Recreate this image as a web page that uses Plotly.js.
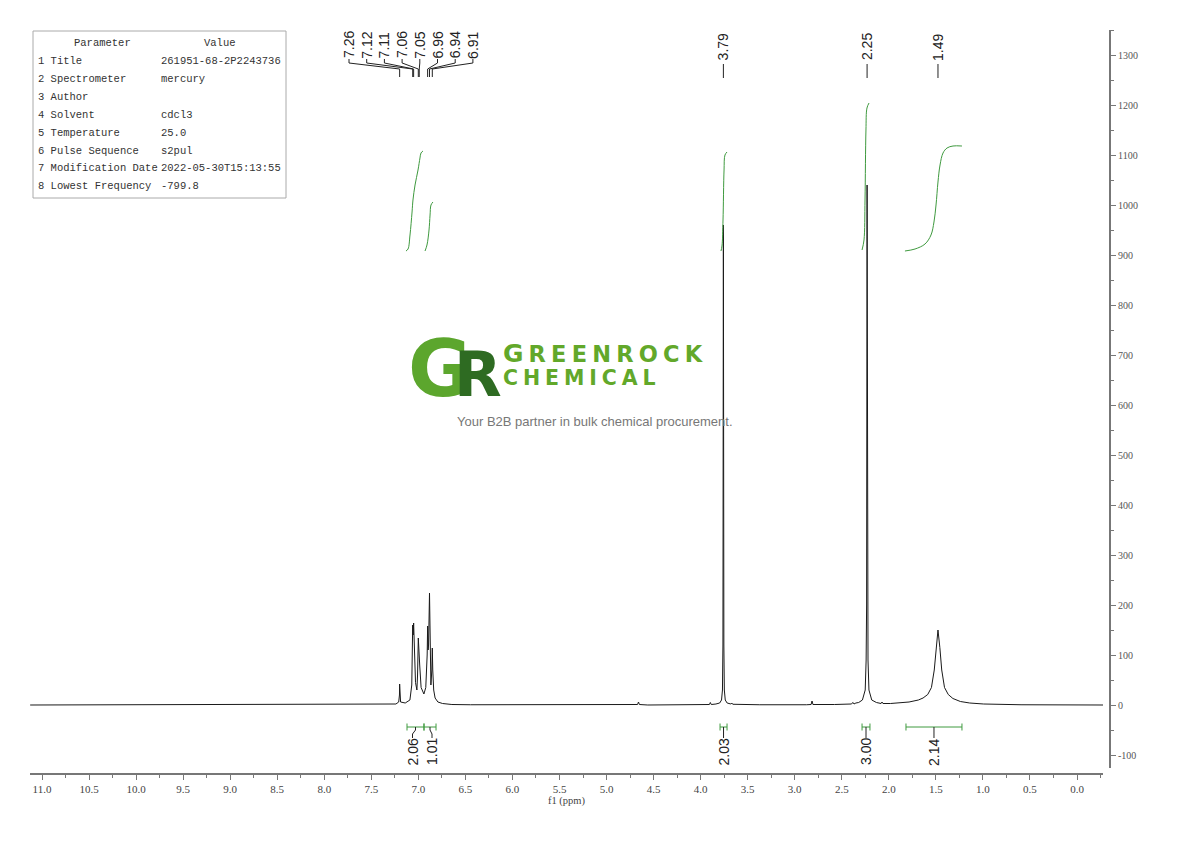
<!DOCTYPE html>
<html>
<head>
<meta charset="utf-8">
<script src="https://cdn.plot.ly/plotly-3.0.1.min.js"></script>
<style>html,body{margin:0;padding:0;background:#fff;}#chart{width:1190px;height:841px;}</style>
</head>
<body>
<div id="chart"></div>
<script>
// ---------- DATA ----------
// 1H NMR spectrum trace (ppm, intensity)
const specX = [11.22, 7.45, 7.30, 7.27, 7.262, 7.26, 7.258, 7.25, 7.20, 7.15, 7.13, 7.122, 7.12, 7.115, 7.11, 7.105, 7.09, 7.075, 7.068, 7.06, 7.055, 7.05, 7.045, 7.03, 7.00, 6.98, 6.965, 6.96, 6.955, 6.95, 6.94, 6.935, 6.925, 6.915, 6.91, 6.905, 6.895, 6.88, 6.85, 6.80, 6.70, 6.50, 4.75, 4.71, 4.70, 4.69, 4.60, 4.00, 3.94, 3.93, 3.92, 3.87, 3.83, 3.81, 3.80, 3.795, 3.79, 3.785, 3.78, 3.77, 3.75, 3.71, 3.70, 3.69, 3.60, 3.40, 2.90, 2.85, 2.84, 2.83, 2.60, 2.42, 2.40, 2.39, 2.37, 2.34, 2.30, 2.27, 2.26, 2.255, 2.25, 2.245, 2.24, 2.23, 2.20, 2.15, 2.10, 2.09, 2.08, 2.00, 1.90, 1.80, 1.70, 1.65, 1.60, 1.56, 1.53, 1.51, 1.49, 1.47, 1.45, 1.42, 1.38, 1.33, 1.25, 1.15, 1.00, 0.60, -0.28];
const specY = [0, 0.5, 2, 6, 20, 42, 20, 6, 4, 10, 40, 130, 160, 140, 164, 120, 45, 30, 60, 134, 100, 120, 80, 35, 22, 35, 100, 158, 110, 120, 224, 120, 40, 70, 114, 70, 30, 14, 6, 3, 1, 0.5, 0, 1, 6, 1, 0, 0.5, 1, 5, 1, 2, 4, 10, 30, 120, 960, 120, 30, 10, 4, 2, 4, 1.5, 1, 0.5, 0.5, 1, 8, 1, 1, 2, 5, 2, 4, 5, 10, 30, 90, 200, 1040, 200, 90, 30, 10, 5, 3, 6, 3, 3, 4, 6, 10, 14, 21, 35, 70, 115, 150, 115, 70, 35, 21, 13, 7, 4, 2, 0.5, 0];

// integral curves (ppm, value)
const int1X = [7.192, 7.170, 7.149, 7.127, 7.117, 7.095, 7.063, 7.042, 7.031, 7.010];
const int1Y = [908, 912, 940, 986, 1010, 1040, 1070, 1094, 1104, 1108];
const int2X = [6.988, 6.967, 6.945, 6.934, 6.924, 6.903];
const int2Y = [908, 920, 950, 980, 1000, 1006];
const int3X = [3.816, 3.805, 3.794, 3.783, 3.773, 3.751];
const int3Y = [908, 918, 970, 1070, 1100, 1106];
const int4X = [2.304, 2.283, 2.272, 2.262, 2.251, 2.229];
const int4Y = [910, 930, 1010, 1150, 1194, 1204];
const int5X = [1.844, 1.736, 1.629, 1.565, 1.533, 1.511, 1.490, 1.468, 1.436, 1.393, 1.329, 1.233];
const int5Y = [908, 912, 922, 940, 966, 1000, 1046, 1080, 1104, 1114, 1118, 1118];

// integration regions
const intFrom  = [7.181, 6.999, 3.826, 2.304, 1.833];
const intTo    = [6.999, 6.870, 3.751, 2.219, 1.233];
const intLabel = ["2.06", "1.01", "2.03", "3.00", "2.14"];

// peak picking
const clusterPeaks = [7.26, 7.12, 7.11, 7.06, 7.05, 6.96, 6.94, 6.91];
const singlePeaks  = [3.79, 2.25, 1.49];

// axis ticks
const yTicks = [-100, 0, 100, 200, 300, 400, 500, 600, 700, 800, 900, 1000, 1100, 1200, 1300];

// parameter table
const paramNames  = ["1 Title", "2 Spectrometer", "3 Author", "4 Solvent", "5 Temperature", "6 Pulse Sequence", "7 Modification Date", "8 Lowest Frequency"];
const paramValues = ["261951-68-2P2243736", "mercury", "", "cdcl3", "25.0", "s2pul", "2022-05-30T15:13:55", "-799.8"];

// ---------- LAYOUT HELPERS ----------
const PL = 30, PT = 30, PW = 1080, PH = 743;
const X0PX = 1077;                 // pixel of 0.0 ppm
const PXPP = 94.09;                // pixels per ppm of the tick scale
const SPXPP = 93.3;                // pixels per ppm of the drawn spectrum frame
const XDOM_END_PX = 1103;
const xL = (X0PX - PL) / PXPP, xR = (X0PX - XDOM_END_PX) / PXPP;
const sL = (X0PX - PL) / SPXPP, sR = (X0PX - XDOM_END_PX) / SPXPP;
const Y0PX = 705, PXPU = 0.5;
const yDomBottomPx = 768;
const yB = -(yDomBottomPx - Y0PX) / PXPU, yT = (Y0PX - PT) / PXPU;
const ppm2px = v => X0PX - v * SPXPP;
const py2p = py => (PT + PH - py) / PH;
const px2p = px => (px - PL) / PW;

const green = '#3f9a3f';
const traces = [];
// empty trace so the tick axis (x / y) subplot is created
traces.push({x: [], y: [], xaxis: 'x', yaxis: 'y', type: 'scatter', mode: 'lines', hoverinfo: 'skip'});
traces.push({x: specX, y: specY, xaxis: 'x2', type: 'scatter', mode: 'lines', line: {color: '#1a1a1a', width: 1}, hoverinfo: 'skip'});
[[int1X, int1Y], [int2X, int2Y], [int3X, int3Y], [int4X, int4Y], [int5X, int5Y]].forEach(([ix, iy]) => {
  traces.push({x: ix, y: iy, xaxis: 'x2', type: 'scatter', mode: 'lines', line: {color: green, width: 1, shape: 'spline'}, hoverinfo: 'skip'});
});

const shapes = [];
const annotations = [];

// parameter table
shapes.push({type: 'rect', xref: 'paper', yref: 'paper', x0: px2p(33), x1: px2p(286), y0: py2p(31), y1: py2p(198), line: {color: '#aaaaaa', width: 1}});
const tFont = {family: 'Liberation Mono, DejaVu Sans Mono, monospace', size: 10.5, color: '#333'};
annotations.push({xref: 'paper', yref: 'paper', x: px2p(102), y: py2p(43), text: 'Parameter', showarrow: false, xanchor: 'center', yanchor: 'middle', font: tFont});
annotations.push({xref: 'paper', yref: 'paper', x: px2p(220), y: py2p(43), text: 'Value', showarrow: false, xanchor: 'center', yanchor: 'middle', font: tFont});
paramNames.forEach((n, i) => {
  const py = 61 + i * 17.9;
  annotations.push({xref: 'paper', yref: 'paper', x: px2p(36), y: py2p(py), text: n, showarrow: false, xanchor: 'left', yanchor: 'middle', font: tFont});
  if (paramValues[i]) annotations.push({xref: 'paper', yref: 'paper', x: px2p(159), y: py2p(py), text: paramValues[i], showarrow: false, xanchor: 'left', yanchor: 'middle', font: tFont});
});

// peak labels
const pFont = {family: 'Liberation Sans, Arial, sans-serif', size: 14, color: '#222'};
singlePeaks.forEach(p => {
  annotations.push({xref: 'x2', yref: 'paper', x: p, y: py2p(47), text: p.toFixed(2), textangle: -90, showarrow: false, xanchor: 'center', yanchor: 'middle', font: pFont});
  shapes.push({type: 'line', xref: 'x2', yref: 'paper', x0: p, x1: p, y0: py2p(64), y1: py2p(78), line: {color: '#222', width: 1}});
});
clusterPeaks.forEach((p, i) => {
  const lx = 349 + i * 17.7;
  annotations.push({xref: 'paper', yref: 'paper', x: px2p(lx), y: py2p(45), text: p.toFixed(2), textangle: -90, showarrow: false, xanchor: 'center', yanchor: 'middle', font: pFont});
  const ppx = ppm2px(p);
  shapes.push({type: 'path', xref: 'paper', yref: 'paper',
    path: `M ${px2p(lx)} ${py2p(59)} L ${px2p(lx)} ${py2p(63)} L ${px2p(ppx)} ${py2p(69)} L ${px2p(ppx)} ${py2p(77)}`,
    line: {color: '#222', width: 1}});
});

// integration brackets
const bracketPy = 727;
const labelShiftPx = [-3, 2, 0, 0, 0];
intFrom.forEach((a, i) => {
  const b = intTo[i];
  const pa = ppm2px(a), pb = ppm2px(b), pm = (pa + pb) / 2, pl = pm + labelShiftPx[i];
  shapes.push({type: 'line', xref: 'paper', yref: 'paper', x0: px2p(pa), x1: px2p(pb), y0: py2p(bracketPy), y1: py2p(bracketPy), line: {color: green, width: 1}});
  shapes.push({type: 'line', xref: 'paper', yref: 'paper', x0: px2p(pa), x1: px2p(pa), y0: py2p(bracketPy - 3.5), y1: py2p(bracketPy + 3.5), line: {color: green, width: 1}});
  shapes.push({type: 'line', xref: 'paper', yref: 'paper', x0: px2p(pb), x1: px2p(pb), y0: py2p(bracketPy - 3.5), y1: py2p(bracketPy + 3.5), line: {color: green, width: 1}});
  shapes.push({type: 'path', xref: 'paper', yref: 'paper', path: `M ${px2p(pm)} ${py2p(bracketPy)} L ${px2p(pm)} ${py2p(bracketPy + 3)} L ${px2p(pl)} ${py2p(bracketPy + 7)} L ${px2p(pl)} ${py2p(bracketPy + 11)}`, line: {color: '#222', width: 1}});
  annotations.push({xref: 'paper', yref: 'paper', x: px2p(pl), y: py2p(752), text: intLabel[i], textangle: -90, showarrow: false, xanchor: 'center', yanchor: 'middle', font: pFont});
});

// watermark logo
annotations.push({xref: 'paper', yref: 'paper', x: px2p(407), y: py2p(369), xanchor: 'left', yanchor: 'middle', showarrow: false, borderpad: 0,
  text: '<b><span style="font-size:78px;color:#5ca62d;letter-spacing:-18px">G</span><span style="font-size:62px;color:#2e6b22">R</span></b>',
  font: {family: 'DejaVu Sans, sans-serif', size: 62, color: '#5ca62d'}});
annotations.push({xref: 'paper', yref: 'paper', x: px2p(502), y: py2p(364.5), xanchor: 'left', yanchor: 'middle', align: 'left', showarrow: false, borderpad: 0,
  text: '<b><span style="font-size:25px;letter-spacing:5px">G</span><span style="font-size:22.5px;letter-spacing:5.2px">REENROCK</span><br><span style="font-size:20.5px;letter-spacing:4.9px">CHEMICAL</span></b>',
  font: {family: 'DejaVu Sans, sans-serif', size: 17.7, color: '#62a82a'}});
annotations.push({xref: 'paper', yref: 'paper', x: px2p(594.5), y: py2p(421), text: 'Your B2B partner in bulk chemical procurement.', showarrow: false, xanchor: 'center', yanchor: 'middle', font: {family: 'Liberation Sans, Arial, sans-serif', size: 13, color: '#777'}});

const axFont = {family: 'Liberation Serif, DejaVu Serif, serif', size: 11, color: '#444'};
const layout = {
  width: 1190, height: 841,
  margin: {l: PL, r: 1190 - PL - PW, t: PT, b: 841 - PT - PH, pad: 0},
  paper_bgcolor: '#fff', plot_bgcolor: '#fff',
  showlegend: false,
  xaxis: {
    range: [xL, xR], domain: [0, (XDOM_END_PX - PL) / PW], anchor: 'free', position: 0,
    showgrid: false, zeroline: false, showline: true, linecolor: '#777', linewidth: 1.5,
    ticks: 'outside', ticklen: 5, tickcolor: '#777', tickwidth: 1,
    dtick: 0.5, tick0: 0, tickformat: '.1f', tickfont: axFont,
    minor: {dtick: 0.25, ticks: 'outside', ticklen: 3, tickcolor: '#777', showgrid: false},
    title: {text: 'f1 (ppm)', font: {family: 'Liberation Serif, DejaVu Serif, serif', size: 10.5, color: '#444'}, standoff: 2}
  },
  xaxis2: {
    range: [sL, sR], domain: [0, (XDOM_END_PX - PL) / PW], overlaying: 'x', anchor: 'free', position: 0,
    visible: false, showgrid: false, zeroline: false
  },
  yaxis: {
    range: [yB, yT], domain: [(PT + PH - yDomBottomPx) / PH, 1], anchor: 'free', position: 1, side: 'right',
    showgrid: false, zeroline: false, showline: true, linecolor: '#777', linewidth: 2,
    ticks: 'outside', ticklen: 5, tickcolor: '#777', tickwidth: 1,
    tickvals: yTicks, ticktext: yTicks.map(String), tickfont: {family: 'Liberation Serif, DejaVu Serif, serif', size: 10, color: '#555'},
    minor: {dtick: 50, tick0: 0, ticks: 'outside', ticklen: 3, tickcolor: '#777', showgrid: false}
  },
  shapes: shapes,
  annotations: annotations
};
Plotly.newPlot('chart', traces, layout, {staticPlot: true, displayModeBar: false});
</script>
</body>
</html>
